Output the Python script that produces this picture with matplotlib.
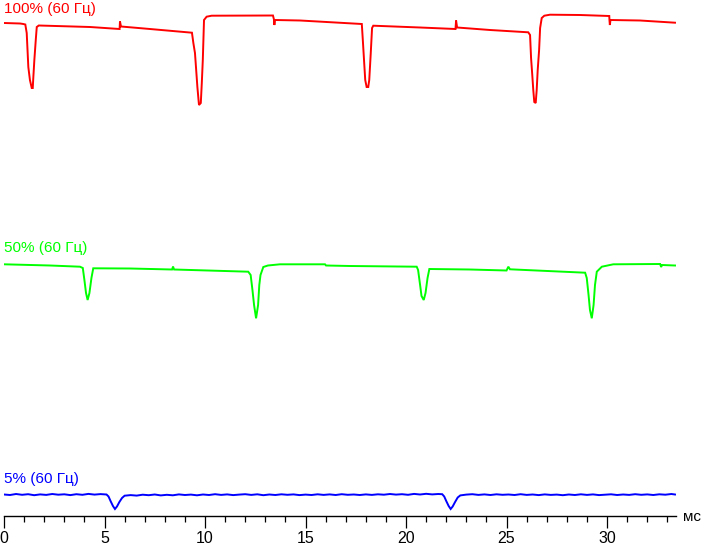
import matplotlib
matplotlib.use("Agg")
import matplotlib.pyplot as plt
from matplotlib.ticker import MultipleLocator

# time (ms) and signal level (arbitrary units) for each trace
red_t = [0, 0.80, 0.96, 1.06, 1.13, 1.21, 1.29, 1.38, 1.43, 1.46, 1.51, 1.58, 1.63, 1.73,
         4.28, 5.75, 5.77, 5.82, 7.26, 9.35, 9.42, 9.50, 9.55, 9.62, 9.70, 9.79, 9.84,
         9.89, 9.92, 9.95, 10.08, 10.33, 13.38, 13.43, 13.45, 13.48, 14.73, 17.80,
         17.85, 17.91, 17.97, 18.04, 18.12, 18.17, 18.24, 18.31, 18.37, 20.70, 22.46,
         22.49, 22.54, 24.18, 26.08, 26.17, 26.22, 26.28, 26.33, 26.38, 26.45, 26.50,
         26.55, 26.62, 26.67, 26.75, 26.88, 27.16, 28.66, 30.11, 30.12, 30.14, 30.17,
         31.64, 33.38]
red_v = [493, 492.5, 492, 491.5, 483, 449, 436, 428, 428, 439, 456, 476, 489, 490.5,
         489, 487, 494.5, 489.5, 487, 483.3, 473, 463, 449, 429, 411, 413, 433,
         456, 476, 496, 499.3, 500.3, 500.5, 496.5, 491, 496, 495.5, 492,
         476, 456, 436, 429, 429, 436, 461, 488, 490.3, 488.5, 487,
         495.5, 488.5, 486, 483.7, 481, 458, 441, 426, 414, 413, 426,
         446, 466, 488, 498, 500.3, 501.3, 501, 500, 496, 491, 496,
         495.5, 493.3]

green_t = [0, 2.29, 3.78, 3.92, 4.00, 4.08, 4.16, 4.25, 4.35, 4.44, 6.27, 8.36, 8.41,
           8.46, 12.15, 12.27, 12.36, 12.44, 12.54, 12.64, 12.70, 12.76, 12.90, 13.13,
           13.73, 15.97, 16.02, 17.21, 20.53, 20.60, 20.70, 20.77, 20.88, 20.97, 21.07,
           21.16, 23.18, 25.00, 25.09, 25.17, 28.91, 28.99, 29.08, 29.15, 29.24, 29.33,
           29.40, 29.49, 29.74, 30.31, 32.64, 32.69, 32.74, 33.38]
green_v = [251.7, 250.5, 249.3, 248, 236, 223, 216, 223, 238, 247.7, 247.5, 246.5, 249.5,
           246.5, 244.3, 241, 226, 211, 197.7, 211, 231, 241, 249, 250.5,
           251.7, 251.7, 250.5, 250, 249.3, 246, 231, 220, 216, 223, 238,
           247, 246.5, 245.5, 249.3, 246.7, 243.3, 238, 221, 206, 197.7, 211,
           231, 244.3, 249.3, 251.7, 252, 249, 251, 250.5]

blue_t = [0, 0.3, 0.6, 0.9, 1.2, 1.5, 1.8, 2.1, 2.4, 2.7, 3.0, 3.3, 3.6, 3.9, 4.2,
          4.5, 4.8, 5.1, 5.2, 5.3, 5.42, 5.52, 5.62, 5.74, 5.87, 6.0, 6.3, 6.6, 6.9,
          7.2, 7.5, 7.8, 8.1, 8.4, 8.7, 9.0, 9.3, 9.6, 9.9, 10.2, 10.5, 10.8, 11.1,
          11.4, 11.7, 12.0, 12.3, 12.6, 12.9, 13.2, 13.5, 13.8, 14.1, 14.4, 14.7,
          15.0, 15.3, 15.6, 15.9, 16.2, 16.5, 16.8, 17.1, 17.4, 17.7, 18.0, 18.3,
          18.6, 18.9, 19.2, 19.5, 19.8, 20.1, 20.4, 20.7, 21.0, 21.3, 21.6, 21.8,
          21.9, 22.0, 22.12, 22.22, 22.32, 22.44, 22.57, 22.7, 23.0, 23.3, 23.6, 23.9,
          24.2, 24.5, 24.8, 25.1, 25.4, 25.7, 26.0, 26.3, 26.6, 26.9, 27.2, 27.5,
          27.8, 28.1, 28.4, 28.7, 29.0, 29.3, 29.6, 29.9, 30.2, 30.5, 30.8, 31.1,
          31.4, 31.7, 32.0, 32.3, 32.6, 32.9, 33.2, 33.38]
blue_v = [21.5, 21.0, 22.0, 21.2, 21.8, 20.8, 21.6, 21.1, 22.0, 21.3, 21.7, 20.9, 21.8,
          21.2, 22.1, 21.4, 21.9, 21.5, 19.5, 15, 10, 7, 9.5, 14, 18, 20.3, 20.9, 20.4,
          21.3, 20.8, 21.5, 20.6, 21.2, 20.7, 21.6, 21.0, 21.4, 20.7, 21.5, 21.0,
          21.8, 21.1, 21.6, 20.9, 21.4, 21.8, 21.1, 21.7, 20.8, 21.5, 21.0, 21.7,
          21.2, 21.6, 20.9, 21.4, 21.0, 21.7, 21.1, 21.6, 21.0, 21.8, 21.2, 21.5,
          21.0, 21.6, 21.1, 21.7, 21.3, 22.0, 21.4, 21.8, 21.2, 22.1, 21.5, 22.2,
          21.6, 22.0, 21.8, 19.5, 15, 10, 7, 9.5, 14, 18.5, 20.6, 21.4, 21.8, 21.1,
          21.6, 21.0, 21.7, 21.2, 21.5, 21.0, 21.8, 21.1, 21.5, 20.9, 21.6, 21.1,
          21.4, 20.8, 21.5, 21.0, 21.7, 21.1, 21.6, 20.9, 21.3, 21.7, 21.0, 21.5,
          21.1, 21.8, 21.2, 21.6, 21.0, 21.7, 21.3, 22.0, 21.5]

series = [
    (red_t, red_v, "#ff0000", "100% (60 Гц)", 502.5),
    (green_t, green_v, "#00ff00", "50% (60 Гц)", 264.3),
    (blue_t, blue_v, "#0000ff", "5% (60 Гц)", 32.7),
]

x_major = [0, 5, 10, 15, 20, 25, 30]
x_unit = "мс"

plt.rcParams['font.family'] = ['Liberation Sans', 'DejaVu Sans']

W, H = 703, 544
fig = plt.figure(figsize=(W / 100, H / 100), dpi=100)
ax = fig.add_axes([4 / W, (H - 516) / H, 672 / W, 516 / H])

for t, v, c, label, ly in series:
    ax.plot(t, v, color=c, lw=1.4, solid_joinstyle="miter")
    ax.text(0.0, ly, label, color=c, fontsize=11, ha="left", va="baseline")

ax.set_xlim(0, 33.43)
ax.set_ylim(0, 516)
for s in ["top", "right", "left"]:
    ax.spines[s].set_visible(False)
ax.spines["bottom"].set_linewidth(1.0)
ax.set_yticks([])
ax.xaxis.set_minor_locator(MultipleLocator(1))
ax.set_xticks(x_major)
ax.set_xticklabels([str(v) for v in x_major])
ax.tick_params(axis="x", which="major", length=8.6, width=0.9, direction="out",
               labelsize=11.5, pad=2.5)
ax.tick_params(axis="x", which="minor", length=4.2, width=0.9, direction="out")
fig.text(683 / W, (H - 517) / H, x_unit, fontsize=11, ha="left", va="center")

fig.savefig("out.png", dpi=100)
